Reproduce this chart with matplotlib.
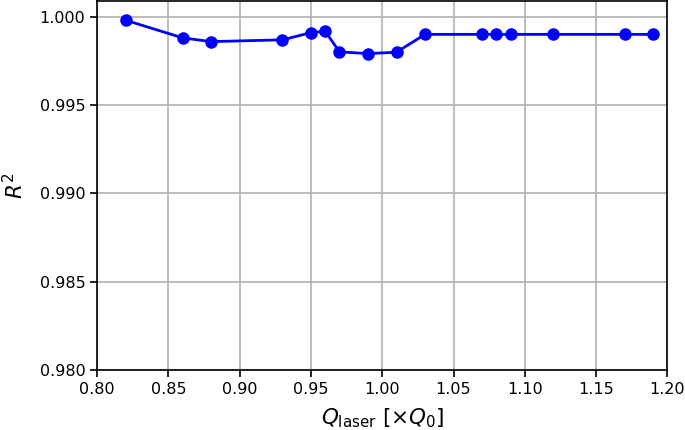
# R^2 vs laser charge scan

import matplotlib
matplotlib.use("Agg")
import matplotlib.pyplot as plt

q_laser = [0.82, 0.86, 0.88, 0.93, 0.95, 0.96, 0.97, 0.99, 1.01, 1.03,
           1.07, 1.08, 1.09, 1.12, 1.17, 1.19]
r2 = [0.99981, 0.99881, 0.99860, 0.99870, 0.99911, 0.99918, 0.99802, 0.99792,
      0.99800, 0.99901, 0.99901, 0.99901, 0.99901, 0.99901, 0.99901, 0.99901]

xticks = [0.80, 0.85, 0.90, 0.95, 1.00, 1.05, 1.10, 1.15, 1.20]
yticks = [0.980, 0.985, 0.990, 0.995, 1.000]

fig = plt.figure(figsize=(6.85, 4.3), dpi=100)
ax = fig.add_axes([97.2 / 685, 60 / 430, (667.3 - 97.2) / 685, 369 / 430])

ax.plot(q_laser, r2, color="blue", marker="o", markersize=8, linewidth=2)

ax.set_xlim(0.80, 1.20)
ax.set_ylim(0.980, 1.0009)
ax.set_xticks(xticks)
ax.set_yticks(yticks)
ax.set_xticklabels([f"{t:.2f}" for t in xticks])
ax.set_yticklabels([f"{t:.3f}" for t in yticks])
ax.tick_params(labelsize=11.5, width=1.2, length=5)
ax.grid(True, color="#b0b0b0", linewidth=1.2)
for s in ax.spines.values():
    s.set_linewidth(1.2)

ax.set_xlabel(r"$Q_{\rm laser}$ [$\times Q_0$]", fontsize=15.5, labelpad=7)
ax.set_ylabel(r"$R^2$", fontsize=15.5, labelpad=9)

fig.savefig("out.png", dpi=100)
